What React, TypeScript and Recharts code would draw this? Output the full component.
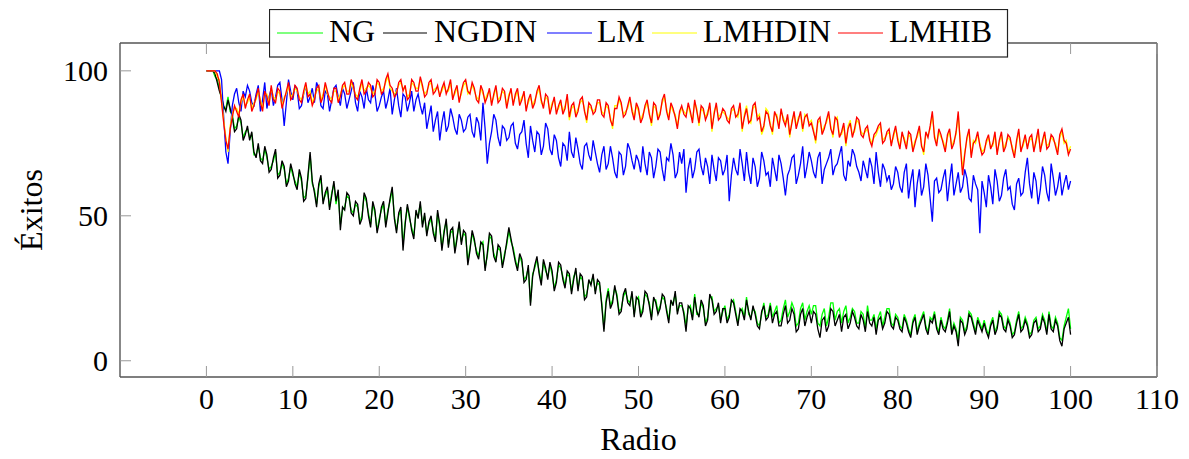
import React from "react";
import { LineChart, Line, XAxis, YAxis, Label } from "recharts";

// Radio (x) values
const radio = [
  0, 0.25, 0.5, 0.75, 1, 1.25, 1.5, 1.75, 2, 2.25, 2.5, 2.75, 3, 3.25, 3.5, 3.75, 4, 4.25, 4.5, 4.75,
  5, 5.25, 5.5, 5.75, 6, 6.25, 6.5, 6.75, 7, 7.25, 7.5, 7.75, 8, 8.25, 8.5, 8.75, 9, 9.25, 9.5, 9.75,
  10, 10.25, 10.5, 10.75, 11, 11.25, 11.5, 11.75, 12, 12.25, 12.5, 12.75, 13, 13.25, 13.5, 13.75, 14, 14.25, 14.5, 14.75,
  15, 15.25, 15.5, 15.75, 16, 16.25, 16.5, 16.75, 17, 17.25, 17.5, 17.75, 18, 18.25, 18.5, 18.75, 19, 19.25, 19.5, 19.75,
  20, 20.25, 20.5, 20.75, 21, 21.25, 21.5, 21.75, 22, 22.25, 22.5, 22.75, 23, 23.25, 23.5, 23.75, 24, 24.25, 24.5, 24.75,
  25, 25.25, 25.5, 25.75, 26, 26.25, 26.5, 26.75, 27, 27.25, 27.5, 27.75, 28, 28.25, 28.5, 28.75, 29, 29.25, 29.5, 29.75,
  30, 30.25, 30.5, 30.75, 31, 31.25, 31.5, 31.75, 32, 32.25, 32.5, 32.75, 33, 33.25, 33.5, 33.75, 34, 34.25, 34.5, 34.75,
  35, 35.25, 35.5, 35.75, 36, 36.25, 36.5, 36.75, 37, 37.25, 37.5, 37.75, 38, 38.25, 38.5, 38.75, 39, 39.25, 39.5, 39.75,
  40, 40.25, 40.5, 40.75, 41, 41.25, 41.5, 41.75, 42, 42.25, 42.5, 42.75, 43, 43.25, 43.5, 43.75, 44, 44.25, 44.5, 44.75,
  45, 45.25, 45.5, 45.75, 46, 46.25, 46.5, 46.75, 47, 47.25, 47.5, 47.75, 48, 48.25, 48.5, 48.75, 49, 49.25, 49.5, 49.75,
  50, 50.25, 50.5, 50.75, 51, 51.25, 51.5, 51.75, 52, 52.25, 52.5, 52.75, 53, 53.25, 53.5, 53.75, 54, 54.25, 54.5, 54.75,
  55, 55.25, 55.5, 55.75, 56, 56.25, 56.5, 56.75, 57, 57.25, 57.5, 57.75, 58, 58.25, 58.5, 58.75, 59, 59.25, 59.5, 59.75,
  60, 60.25, 60.5, 60.75, 61, 61.25, 61.5, 61.75, 62, 62.25, 62.5, 62.75, 63, 63.25, 63.5, 63.75, 64, 64.25, 64.5, 64.75,
  65, 65.25, 65.5, 65.75, 66, 66.25, 66.5, 66.75, 67, 67.25, 67.5, 67.75, 68, 68.25, 68.5, 68.75, 69, 69.25, 69.5, 69.75,
  70, 70.25, 70.5, 70.75, 71, 71.25, 71.5, 71.75, 72, 72.25, 72.5, 72.75, 73, 73.25, 73.5, 73.75, 74, 74.25, 74.5, 74.75,
  75, 75.25, 75.5, 75.75, 76, 76.25, 76.5, 76.75, 77, 77.25, 77.5, 77.75, 78, 78.25, 78.5, 78.75, 79, 79.25, 79.5, 79.75,
  80, 80.25, 80.5, 80.75, 81, 81.25, 81.5, 81.75, 82, 82.25, 82.5, 82.75, 83, 83.25, 83.5, 83.75, 84, 84.25, 84.5, 84.75,
  85, 85.25, 85.5, 85.75, 86, 86.25, 86.5, 86.75, 87, 87.25, 87.5, 87.75, 88, 88.25, 88.5, 88.75, 89, 89.25, 89.5, 89.75,
  90, 90.25, 90.5, 90.75, 91, 91.25, 91.5, 91.75, 92, 92.25, 92.5, 92.75, 93, 93.25, 93.5, 93.75, 94, 94.25, 94.5, 94.75,
  95, 95.25, 95.5, 95.75, 96, 96.25, 96.5, 96.75, 97, 97.25, 97.5, 97.75, 98, 98.25, 98.5, 98.75, 99, 99.25, 99.5, 99.75,
  100,
];

const ng = [
  100, 100, 100, 100, 98, 97, 94, 90, 87, 87, 91, 86, 85, 80, 81, 84, 82, 77, 79, 80,
  77, 78, 71, 71, 74, 70, 69, 73, 70, 66, 67, 69, 72, 64, 65, 68, 66, 61, 63, 67,
  64, 62, 60, 65, 62, 56, 57, 63, 71, 61, 59, 54, 60, 63, 55, 57, 59, 53, 58, 61,
  54, 58, 47, 52, 53, 57, 56, 52, 51, 54, 53, 48, 50, 57, 55, 51, 47, 54, 51, 45,
  49, 52, 54, 47, 52, 55, 59, 50, 45, 50, 52, 40, 48, 53, 49, 46, 43, 51, 50, 54,
  47, 50, 44, 47, 49, 45, 42, 51, 46, 39, 45, 48, 40, 44, 45, 38, 43, 47, 41, 44,
  43, 34, 39, 44, 41, 38, 36, 40, 41, 32, 36, 43, 42, 37, 35, 39, 38, 33, 37, 40,
  45, 41, 39, 35, 32, 36, 34, 28, 29, 32, 20, 30, 32, 35, 31, 27, 34, 31, 29, 33,
  30, 25, 28, 33, 32, 29, 26, 30, 29, 24, 29, 31, 25, 29, 28, 22, 23, 27, 27, 29,
  24, 27, 26, 20, 11, 21, 25, 19, 21, 25, 23, 17, 18, 22, 24, 21, 20, 23, 16, 21,
  22, 16, 18, 23, 22, 20, 15, 21, 21, 17, 19, 22, 21, 18, 14, 20, 20, 23, 17, 19,
  19, 17, 12, 18, 19, 15, 23, 16, 16, 20, 18, 13, 15, 22, 22, 17, 18, 19, 14, 17,
  19, 14, 16, 20, 21, 17, 13, 17, 18, 15, 22, 16, 15, 18, 17, 13, 12, 16, 20, 15,
  16, 20, 15, 17, 19, 13, 14, 18, 21, 15, 17, 20, 18, 12, 13, 18, 20, 14, 17, 19,
  16, 19, 19, 13, 12, 16, 18, 12, 15, 20, 20, 14, 17, 18, 13, 17, 19, 13, 15, 18,
  17, 13, 13, 17, 16, 11, 19, 14, 14, 16, 11, 15, 17, 12, 15, 18, 18, 13, 12, 16,
  15, 12, 11, 16, 14, 11, 9, 14, 16, 10, 13, 15, 17, 12, 10, 15, 14, 17, 12, 10,
  15, 12, 11, 14, 18, 10, 13, 11, 7, 15, 14, 10, 12, 17, 16, 13, 10, 15, 13, 11,
  14, 11, 9, 13, 15, 10, 12, 17, 16, 12, 11, 15, 13, 9, 10, 14, 17, 11, 12, 15,
  13, 9, 10, 14, 15, 11, 12, 16, 14, 10, 17, 12, 11, 15, 13, 8, 7, 12, 15, 18,
  11,
];

const ngdin = [
  100, 100, 100, 100, 99, 96, 93, 91, 88, 86, 90, 87, 84, 79, 80, 85, 83, 76, 78, 81,
  76, 79, 72, 70, 75, 69, 68, 74, 71, 65, 66, 70, 73, 63, 64, 69, 67, 60, 62, 68,
  65, 61, 59, 66, 63, 55, 56, 64, 72, 62, 58, 53, 61, 64, 54, 58, 60, 52, 57, 62,
  55, 59, 45, 53, 52, 58, 57, 51, 50, 55, 54, 47, 49, 58, 56, 50, 46, 55, 52, 44,
  48, 53, 55, 46, 51, 56, 60, 49, 44, 51, 53, 38, 47, 54, 50, 45, 42, 52, 49, 55,
  46, 51, 43, 48, 50, 44, 41, 52, 47, 38, 44, 49, 39, 45, 46, 37, 42, 48, 40, 45,
  44, 33, 38, 45, 42, 37, 35, 41, 40, 31, 37, 44, 43, 36, 34, 40, 39, 32, 36, 41,
  46, 42, 38, 34, 31, 37, 35, 27, 28, 33, 19, 29, 33, 36, 30, 26, 35, 32, 28, 34,
  31, 24, 27, 34, 33, 28, 25, 31, 30, 23, 28, 32, 24, 30, 29, 21, 22, 28, 26, 30,
  23, 28, 27, 19, 10, 20, 24, 18, 20, 26, 22, 16, 17, 23, 25, 20, 19, 24, 15, 22,
  21, 15, 17, 24, 23, 19, 14, 22, 20, 16, 18, 23, 22, 17, 13, 21, 19, 24, 16, 20,
  20, 16, 10, 19, 18, 14, 22, 17, 15, 21, 19, 12, 14, 23, 21, 16, 17, 20, 13, 18,
  18, 13, 15, 21, 20, 16, 12, 18, 17, 14, 21, 17, 14, 19, 16, 12, 11, 17, 19, 14,
  15, 19, 13, 16, 17, 12, 12, 16, 19, 13, 14, 18, 16, 10, 11, 16, 18, 12, 15, 17,
  13, 17, 16, 11, 8, 14, 15, 10, 12, 18, 17, 12, 14, 16, 10, 15, 16, 11, 13, 17,
  15, 12, 11, 16, 14, 10, 17, 13, 12, 15, 9, 14, 15, 11, 13, 17, 16, 12, 11, 15,
  14, 11, 10, 15, 13, 10, 8, 13, 15, 9, 12, 14, 16, 11, 9, 14, 13, 16, 11, 9,
  14, 11, 10, 13, 17, 9, 12, 10, 5, 14, 13, 9, 11, 16, 15, 12, 9, 14, 12, 10,
  13, 10, 8, 12, 14, 9, 11, 16, 15, 11, 10, 14, 12, 8, 9, 13, 16, 10, 11, 14,
  12, 8, 9, 13, 14, 10, 11, 15, 13, 9, 16, 11, 10, 14, 12, 7, 5, 11, 13, 15,
  9,
];

const lm = [
  100, 100, 100, 100, 100, 100, 100, 97, 84, 72, 68, 79, 88, 92, 94, 89, 86, 93, 91, 95,
  93, 89, 88, 92, 95, 86, 90, 96, 87, 91, 94, 88, 91, 95, 96, 90, 81, 89, 97, 93,
  90, 95, 93, 87, 88, 92, 95, 89, 91, 94, 89, 96, 94, 88, 87, 93, 92, 86, 90, 94,
  95, 91, 88, 94, 92, 87, 90, 93, 96, 89, 86, 93, 91, 87, 94, 90, 89, 95, 92, 86,
  88, 91, 93, 87, 90, 94, 85, 90, 94, 88, 84, 92, 91, 86, 89, 93, 86, 90, 92, 88,
  85, 89, 80, 84, 88, 79, 83, 86, 76, 82, 86, 79, 81, 87, 84, 80, 78, 85, 83, 79,
  80, 84, 85, 79, 77, 84, 82, 76, 89, 80, 68, 75, 79, 85, 83, 77, 74, 81, 80, 76,
  77, 81, 82, 75, 73, 78, 79, 83, 75, 70, 81, 76, 72, 79, 78, 71, 74, 82, 80, 73,
  71, 78, 76, 70, 67, 75, 74, 69, 79, 72, 70, 77, 73, 68, 66, 74, 75, 71, 69, 76,
  72, 68, 65, 71, 74, 66, 68, 74, 70, 65, 63, 72, 71, 64, 67, 75, 73, 69, 66, 71,
  69, 65, 74, 68, 64, 72, 70, 63, 67, 73, 72, 66, 62, 70, 69, 75, 71, 63, 65, 72,
  68, 73, 58, 66, 70, 63, 66, 72, 73, 67, 64, 70, 67, 61, 71, 66, 62, 70, 69, 64,
  66, 71, 55, 64, 70, 66, 64, 73, 68, 62, 72, 65, 61, 70, 67, 60, 63, 72, 69, 64,
  65, 60, 70, 66, 62, 71, 68, 63, 57, 64, 66, 70, 71, 61, 64, 68, 74, 63, 67, 72,
  69, 65, 63, 70, 72, 61, 66, 68, 70, 73, 64, 67, 68, 71, 74, 64, 62, 69, 67, 73,
  71, 67, 65, 62, 69, 66, 63, 70, 67, 61, 72, 65, 60, 68, 66, 62, 64, 59, 61, 67,
  65, 60, 58, 65, 68, 56, 62, 66, 53, 61, 66, 57, 60, 68, 64, 56, 48, 62, 63, 58,
  59, 63, 66, 55, 62, 68, 57, 61, 65, 58, 60, 66, 63, 56, 55, 64, 61, 59, 44, 62,
  58, 53, 64, 60, 54, 66, 62, 55, 57, 63, 66, 59, 60, 54, 52, 61, 63, 57, 58, 65,
  70, 61, 56, 65, 62, 54, 59, 67, 64, 58, 55, 68, 63, 57, 60, 65, 57, 61, 64, 59,
  62,
];

const lmhdin = [
  100, 100, 100, 100, 100, 98, 97, 90, 83, 77, 72, 81, 85, 87, 87, 85, 89, 91, 88, 89,
  91, 87, 89, 90, 93, 90, 87, 92, 92, 89, 94, 91, 90, 93, 92, 88, 91, 92, 95, 91,
  92, 94, 93, 91, 90, 92, 95, 92, 93, 89, 91, 93, 94, 90, 92, 95, 92, 91, 90, 93,
  93, 90, 92, 94, 95, 93, 93, 96, 94, 92, 91, 93, 96, 93, 94, 95, 94, 92, 93, 96,
  95, 93, 94, 96, 98, 94, 93, 92, 93, 95, 96, 94, 94, 91, 92, 96, 95, 94, 94, 97,
  94, 92, 93, 95, 96, 93, 94, 94, 92, 93, 95, 93, 93, 96, 91, 92, 94, 90, 92, 95,
  96, 92, 93, 95, 93, 91, 90, 94, 92, 90, 92, 93, 89, 91, 94, 90, 91, 93, 92, 88,
  92, 93, 89, 91, 93, 89, 91, 92, 87, 89, 91, 88, 90, 92, 94, 89, 88, 91, 90, 86,
  89, 90, 86, 87, 89, 86, 88, 91, 83, 87, 88, 85, 87, 89, 90, 87, 82, 88, 87, 86,
  87, 89, 89, 86, 85, 88, 87, 84, 80, 88, 88, 90, 88, 85, 86, 87, 90, 87, 84, 88,
  86, 83, 85, 87, 89, 86, 81, 88, 87, 84, 86, 89, 91, 87, 84, 88, 86, 85, 81, 85,
  87, 86, 85, 88, 85, 83, 89, 87, 81, 87, 86, 84, 86, 88, 79, 86, 88, 84, 85, 86,
  85, 84, 83, 86, 87, 85, 84, 88, 79, 85, 88, 83, 82, 87, 88, 84, 85, 78, 80, 87,
  86, 82, 78, 85, 85, 81, 86, 84, 82, 84, 77, 83, 85, 81, 84, 85, 79, 85, 84, 82,
  83, 80, 75, 82, 83, 79, 81, 82, 85, 81, 77, 83, 84, 78, 78, 81, 74, 81, 83, 78,
  79, 83, 82, 79, 78, 79, 80, 77, 75, 77, 78, 80, 81, 76, 77, 78, 79, 75, 77, 80,
  77, 74, 78, 77, 74, 78, 77, 73, 76, 77, 80, 75, 71, 78, 78, 80, 85, 78, 75, 79,
  77, 76, 73, 77, 79, 74, 76, 78, 85, 75, 66, 72, 76, 79, 71, 76, 75, 78, 75, 72,
  73, 75, 77, 74, 74, 78, 72, 75, 78, 73, 75, 77, 76, 74, 71, 75, 79, 73, 74, 77,
  74, 76, 77, 73, 75, 79, 73, 75, 78, 74, 75, 77, 76, 75, 72, 77, 79, 75, 76, 72,
  74,
];

const lmhib = [
  100, 100, 100, 100, 100, 99, 96, 89, 82, 76, 73, 80, 84, 88, 86, 84, 90, 92, 87, 90,
  92, 86, 88, 91, 94, 89, 86, 93, 91, 88, 95, 90, 89, 94, 93, 87, 90, 93, 96, 90,
  91, 95, 94, 90, 89, 93, 96, 91, 92, 88, 90, 94, 95, 89, 91, 96, 93, 90, 89, 94,
  94, 89, 91, 95, 96, 92, 92, 97, 95, 91, 90, 94, 97, 92, 93, 96, 95, 91, 92, 97,
  96, 92, 93, 97, 99, 95, 94, 91, 92, 96, 97, 93, 95, 90, 91, 97, 96, 93, 93, 98,
  95, 91, 92, 96, 97, 92, 93, 95, 91, 94, 96, 92, 94, 97, 90, 93, 95, 89, 93, 96,
  97, 93, 92, 96, 94, 90, 89, 95, 93, 89, 91, 94, 88, 92, 95, 89, 90, 94, 93, 87,
  91, 94, 88, 92, 94, 88, 90, 93, 86, 90, 92, 87, 89, 93, 95, 90, 87, 92, 91, 85,
  88, 91, 85, 88, 90, 85, 87, 92, 84, 88, 89, 84, 86, 90, 91, 86, 83, 89, 88, 85,
  86, 90, 90, 85, 84, 89, 88, 83, 81, 87, 87, 91, 89, 84, 85, 88, 91, 86, 83, 89,
  87, 82, 84, 88, 90, 85, 82, 89, 88, 83, 85, 90, 92, 86, 83, 89, 87, 84, 80, 86,
  88, 85, 84, 89, 86, 82, 90, 86, 82, 88, 87, 83, 85, 89, 80, 85, 89, 83, 84, 87,
  86, 83, 82, 87, 88, 84, 85, 89, 80, 84, 87, 82, 83, 88, 89, 83, 84, 79, 81, 86,
  85, 81, 79, 86, 84, 80, 87, 83, 81, 85, 78, 82, 86, 80, 83, 86, 80, 84, 85, 81,
  82, 79, 76, 83, 84, 78, 80, 83, 86, 80, 78, 84, 83, 77, 79, 82, 75, 80, 82, 77,
  80, 84, 83, 78, 77, 80, 81, 76, 74, 78, 79, 81, 82, 75, 76, 79, 80, 74, 78, 81,
  76, 73, 79, 76, 73, 79, 78, 72, 75, 78, 81, 74, 72, 79, 77, 81, 86, 77, 74, 80,
  78, 75, 72, 78, 80, 73, 75, 79, 86, 74, 64, 71, 77, 80, 70, 75, 76, 79, 74, 71,
  72, 76, 78, 73, 75, 79, 71, 76, 79, 72, 74, 78, 77, 73, 70, 76, 80, 72, 75, 78,
  73, 77, 78, 72, 76, 80, 72, 76, 79, 73, 74, 78, 77, 74, 71, 78, 80, 76, 75, 71,
  73,
];

const xTicks = [0, 10, 20, 30, 40, 50, 60, 70, 80, 90, 100, 110];
const yTicks = [0, 50, 100];

const series = [
  { key: "NG", values: ng, color: "#00ff00" },
  { key: "NGDIN", values: ngdin, color: "#000000" },
  { key: "LM", values: lm, color: "#0000ff" },
  { key: "LMHDIN", values: lmhdin, color: "#ffff00" },
  { key: "LMHIB", values: lmhib, color: "#ff0000" },
];

const data = radio.map((r, i) => {
  const row: Record<string, number> = { radio: r };
  series.forEach((s) => (row[s.key] = s.values[i]));
  return row;
});

const FONT = "'Liberation Serif', 'Times New Roman', serif";
const TICK_LEN = 11;
const TICK_COLOR = "#999";
const BOX = "#555";

// legend entry offsets inside the box: [line start, line end, text x]
const legendPos = [
  [8, 54, 60],
  [114, 158, 165],
  [278, 323, 328],
  [383, 428, 434],
  [569, 614, 620],
];

const BottomTick = (props: any) => {
  const { x, y, payload } = props;
  return (
    <g>
      <line x1={x} x2={x} y1={y} y2={y - TICK_LEN} stroke={TICK_COLOR} />
      <text x={x} y={y + 32} textAnchor="middle" fontSize={30} fontFamily={FONT} fill="#000">
        {payload.value}
      </text>
    </g>
  );
};

const TopTick = (props: any) => {
  const { x, y } = props;
  return <line x1={x} x2={x} y1={y} y2={y + TICK_LEN} stroke={TICK_COLOR} />;
};

const LeftTick = (props: any) => {
  const { x, y, payload } = props;
  return (
    <g>
      <line x1={x} x2={x + TICK_LEN} y1={y} y2={y} stroke={TICK_COLOR} />
      <text x={x - 12} y={y + 10.5} textAnchor="end" fontSize={30} fontFamily={FONT} fill="#000">
        {payload.value}
      </text>
    </g>
  );
};

const RightTick = (props: any) => {
  const { x, y } = props;
  return <line x1={x} x2={x - TICK_LEN} y1={y} y2={y} stroke={TICK_COLOR} />;
};

const ChartLegend = () => (
  <svg width={740} height={50} style={{ position: "absolute", left: 269, top: 9 }}>
    <rect x={0.5} y={0.5} width={738} height={47.5} fill="#fff" stroke="#222" strokeWidth={1.2} />
    {series.map((s, i) => (
      <g key={s.key}>
        <line x1={legendPos[i][0]} x2={legendPos[i][1]} y1={24} y2={24} stroke={s.color} strokeWidth={1.2} />
        <text x={legendPos[i][2]} y={32.5} fontSize={32} fontFamily={FONT} fill="#000">
          {s.key}
        </text>
      </g>
    ))}
  </svg>
);

export default function App() {
  return (
    <div style={{ position: "absolute", left: 0, top: 0, width: 1189, height: 459, background: "#fff" }}>
      <LineChart width={1189} height={459} data={data} margin={{ top: 42, right: 31, bottom: 0, left: 0 }}>
        <XAxis
          dataKey="radio"
          type="number"
          domain={[-10, 110]}
          ticks={xTicks}
          height={82}
          tickSize={0}
          tickMargin={0}
          tickLine={false}
          axisLine={{ stroke: BOX, strokeWidth: 1.4 }}
          tick={<BottomTick />}
          interval={0}
        >
          <Label
            content={(p: any) => {
              const vb = p.viewBox;
              return (
                <text x={vb.x + vb.width / 2} y={vb.y + 73} textAnchor="middle" fontSize={32} fontFamily={FONT} fill="#000">
                  Radio
                </text>
              );
            }}
          />
        </XAxis>
        <XAxis
          xAxisId="top"
          orientation="top"
          dataKey="radio"
          type="number"
          domain={[-10, 110]}
          ticks={xTicks}
          height={1}
          tickSize={0}
          tickMargin={0}
          tickLine={false}
          axisLine={{ stroke: BOX, strokeWidth: 1.4 }}
          tick={<TopTick />}
          interval={0}
        />
        <YAxis
          type="number"
          domain={[-5.6, 109.6]}
          ticks={yTicks}
          width={120}
          tickSize={0}
          tickMargin={0}
          tickLine={false}
          axisLine={{ stroke: BOX, strokeWidth: 1.4 }}
          tick={<LeftTick />}
          interval={0}
        >
          <Label
            content={(p: any) => {
              const vb = p.viewBox;
              const cx = vb.x + 42;
              const cy = vb.y + vb.height / 2;
              return (
                <text x={cx} y={cy} transform={`rotate(-90, ${cx}, ${cy})`} textAnchor="middle" fontSize={32} fontFamily={FONT} fill="#000">
                  Éxitos
                </text>
              );
            }}
          />
        </YAxis>
        <YAxis
          yAxisId="right"
          orientation="right"
          type="number"
          domain={[-5.6, 109.6]}
          ticks={yTicks}
          width={1}
          tickSize={0}
          tickMargin={0}
          tickLine={false}
          axisLine={{ stroke: BOX, strokeWidth: 1.4 }}
          tick={<RightTick />}
          interval={0}
        />
        {series.map((s) => (
          <Line
            key={s.key}
            dataKey={s.key}
            type="linear"
            stroke={s.color}
            strokeWidth={1.3}
            dot={false}
            isAnimationActive={false}
          />
        ))}
      </LineChart>
      <ChartLegend />
    </div>
  );
}
